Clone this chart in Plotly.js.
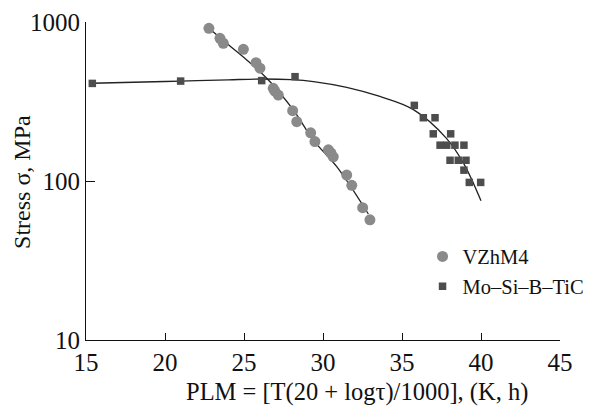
<!DOCTYPE html>
<html>
<head>
<meta charset="utf-8">
<script src="https://cdn.plot.ly/plotly-3.0.1.min.js"></script>
<style>html,body{margin:0;padding:0;background:#fff;}#chart{width:589px;height:412px;}</style>
</head>
<body>
<div id="chart"></div>
<script>
// VZhM4 measured points
var vzhX = [22.78, 23.48, 23.69, 24.96, 25.76, 26.01, 26.85, 26.95, 27.17, 28.08, 28.34, 29.22, 29.49, 30.34, 30.5, 30.65, 31.5, 31.82, 32.51, 32.97];
var vzhY = [912, 789, 735, 673, 555, 512, 383, 368, 347, 277, 236, 201, 177, 157, 150, 142, 109, 94, 68, 57];
// VZhM4 fitted curve
var vzhFitX = [22.78, 24.11, 25.17, 26.44, 28.12, 29.39, 30.87, 32.87];
var vzhFitY = [912, 706, 577, 443, 280, 181, 123, 62];

// Mo-Si-B-TiC measured points
var moX = [15.4, 20.99, 26.12, 28.23, 35.78, 36.35, 37.09, 36.98, 38.08, 37.41, 37.83, 38.35, 38.92, 38.04, 38.56, 39.05, 38.92, 39.26, 39.98];
var moY = [411, 425, 428, 453, 299, 250, 250, 198, 198, 168, 168, 168, 168, 135, 135, 135, 117, 98, 98];
// Mo-Si-B-TiC fitted curve
var moFitX = [15.4, 18.0, 21.0, 24.0, 26.1, 28.0, 29.4, 31.5, 33.6, 35.7, 37.8, 38.9, 40.0];
var moFitY = [412, 418, 425, 433, 438, 434, 422, 388, 340, 282, 186, 129, 75];

var seriesNames = ["VZhM4", "Mo\u2013Si\u2013B\u2013TiC"];
var yTickVals = [10, 100, 1000];
var yTickText = ["10", "100", "1000"];
var xTitle = "PLM = [T(20 + log\u03c4)/1000], (K, h)";
var yTitle = "Stress \u03c3, MPa";

var serif = "'Liberation Serif', 'Times New Roman', serif";

var traces = [
  {x: vzhFitX, y: vzhFitY, mode: "lines", line: {color: "#222", width: 1.3, shape: "spline"}, showlegend: false, hoverinfo: "skip"},
  {x: moFitX, y: moFitY, mode: "lines", line: {color: "#222", width: 1.3, shape: "spline"}, showlegend: false, hoverinfo: "skip"},
  {x: vzhX, y: vzhY, mode: "markers", name: seriesNames[0], legendgroup: "a",
   marker: {symbol: "circle", size: 11, color: "#8a8a8a", line: {width: 0}}},
  {x: moX, y: moY, mode: "markers", name: seriesNames[1], legendgroup: "b",
   marker: {symbol: "square", size: 7.5, color: "#4d4d4d", line: {width: 0}}}
];

var layout = {
  width: 589, height: 412,
  margin: {l: 86, r: 29, t: 22, b: 72, autoexpand: false},
  paper_bgcolor: "#fff", plot_bgcolor: "#fff",
  font: {family: serif, color: "#111", size: 18},
  showlegend: true,
  legend: {x: 0.71, y: 0.325, xanchor: "left", yanchor: "top", bgcolor: "rgba(0,0,0,0)",
    font: {family: serif, size: 20.5, color: "#111"}, itemsizing: "trace",
    traceorder: "grouped", tracegroupgap: 0},
  xaxis: {range: [15, 45], dtick: 5, tick0: 15, showgrid: false, zeroline: false,
    showline: true, linecolor: "#111", linewidth: 1, ticks: "inside", ticklen: 7,
    tickcolor: "#111", tickfont: {family: serif, size: 25}},
  yaxis: {type: "log", range: [1, 3], tickvals: yTickVals, ticktext: yTickText,
    showgrid: false, zeroline: false, showline: true, linecolor: "#111", linewidth: 1,
    ticks: "inside", ticklen: 9, tickcolor: "#111", tickfont: {family: serif, size: 25}},
  annotations: [
    {text: xTitle, xref: "paper", yref: "paper", x: 0.572, y: -0.165, xanchor: "center", yanchor: "middle",
     showarrow: false, font: {family: serif, size: 24.5, color: "#111"}},
    {text: yTitle, xref: "paper", yref: "paper", x: -0.135, y: 0.497, xanchor: "center", yanchor: "middle",
     textangle: -90, showarrow: false, font: {family: serif, size: 24, color: "#111"}}
  ]
};

Plotly.newPlot("chart", traces, layout, {displayModeBar: false, staticPlot: true});
</script>
</body>
</html>
